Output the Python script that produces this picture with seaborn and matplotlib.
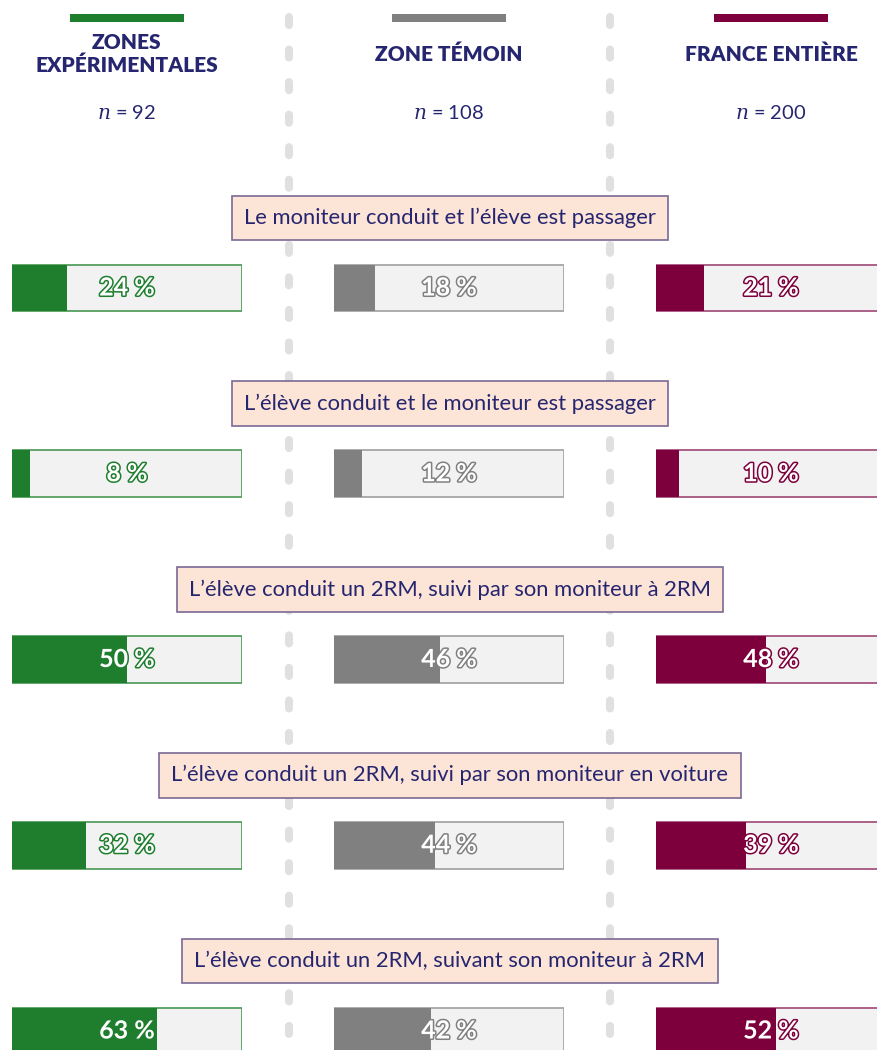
import matplotlib
matplotlib.use("Agg")
import matplotlib.pyplot as plt
import matplotlib.patheffects as pe
from matplotlib.patches import Rectangle
import seaborn as sb

# data
situations = [
    "Le moniteur conduit et l\u2019élève est passager",
    "L\u2019élève conduit et le moniteur est passager",
    "L\u2019élève conduit un 2RM, suivi par son moniteur à 2RM",
    "L\u2019élève conduit un 2RM, suivi par son moniteur en voiture",
    "L\u2019élève conduit un 2RM, suivant son moniteur à 2RM",
]
groupes = ["ZONES\nEXPÉRIMENTALES", "ZONE TÉMOIN", "FRANCE ENTIÈRE"]
effectifs = [92, 108, 200]
zones_exp = [24, 8, 50, 32, 63]
zone_temoin = [18, 12, 46, 44, 42]
france = [21, 10, 48, 39, 52]

colors = ["#1e7e2e", "#808080", "#7d003d"]
borders = ["#55a060", "#a6a6a6", "#a65580"]
navy = "#262670"

sb.set_style("white")
plt.rcParams['font.family'] = ['Lato', 'DejaVu Sans']
plt.rcParams['mathtext.fontset'] = 'dejavuserif'

W, H = 878, 1050
fig = plt.figure(figsize=(W / 100, H / 100), dpi=100)

# overlay axes in pixel coords
ax0 = fig.add_axes([0, 0, 1, 1])
ax0.set_xlim(0, W)
ax0.set_ylim(H, 0)
ax0.axis("off")

col_left = [12, 334, 656]
bar_w = 230
row0, row_step = 288, 185.75

# dashed separators
for x in [289, 610]:
    ax0.plot([x, x], [17, H], color="#e0e0e0", lw=5.8, linestyle=(0, (1.0, 3.04)),
             dash_capstyle="round", zorder=1)

for j, g in enumerate(groupes):
    cx = col_left[j] + bar_w / 2
    ax0.add_patch(Rectangle((cx - 57, 14), 114, 8, color=colors[j], lw=0))
    ax0.text(cx, 54, g, ha="center", va="center", fontsize=15, fontweight="heavy",
             color=navy, linespacing=1.2)
    ax0.text(cx, 113, "$n$ = %d" % effectifs[j], ha="center", va="center",
             fontsize=14.5, color=navy)

for i, s in enumerate(situations):
    ax0.text(W / 2 + 11, row0 + row_step * i - 70, s, ha="center", va="center",
             fontsize=15.8, color=navy, zorder=3,
             bbox=dict(boxstyle="square,pad=0.56", fc="#fce4d6", ec="#7a6a96", lw=1.2))

# bar columns
series = [zones_exp, zone_temoin, france]
k_top = -row0 / row_step
k_bot = (H - row0) / row_step
for j, vals in enumerate(series):
    ax = fig.add_axes([col_left[j] / W, 0, bar_w / W, 1])
    ax.patch.set_alpha(0)
    sb.barplot(x=[100] * len(situations), y=situations, color="#f2f2f2", width=0.253,
               edgecolor=borders[j], linewidth=1.3, saturation=1, ax=ax)
    sb.barplot(x=vals, y=situations, color=colors[j], width=0.253, linewidth=0,
               saturation=1, ax=ax)
    ax.set_xlim(0, 100)
    ax.set_ylim(k_bot, k_top)
    for i, v in enumerate(vals):
        ax.text(50, i, "%d %%" % v, ha="center", va="center", fontsize=18,
                fontweight="bold", color="white", zorder=5,
                path_effects=[pe.withStroke(linewidth=2.2, foreground=colors[j])])
    ax.axis("off")

fig.savefig("out.png", dpi=100)
